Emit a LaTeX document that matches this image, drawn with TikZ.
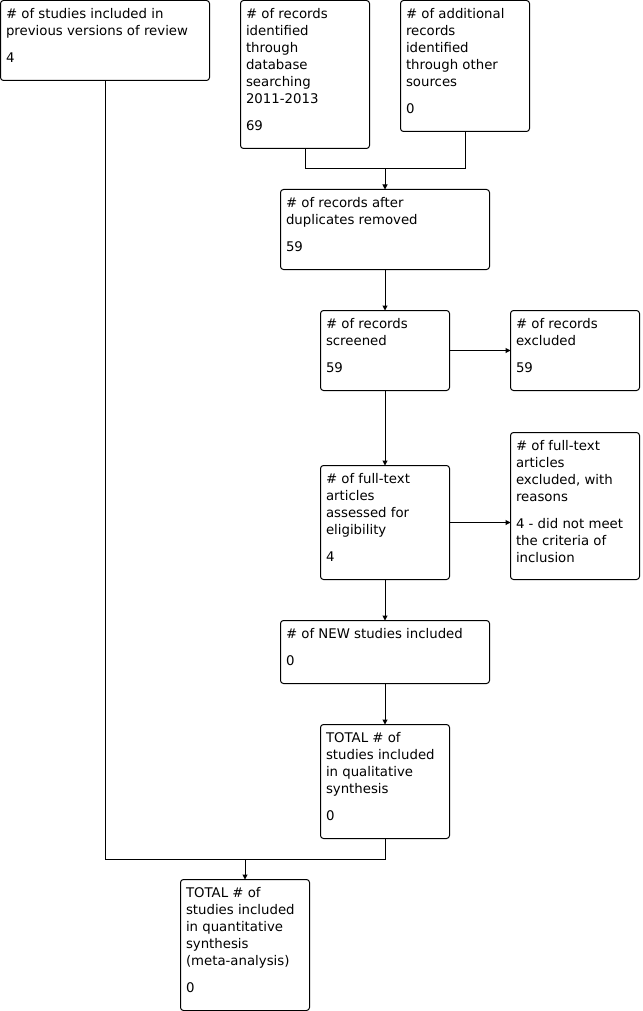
\documentclass[tikz,border=0pt]{standalone}
\usepackage{fontspec}
\setmainfont{DejaVu Sans}
\usetikzlibrary{arrows.meta}
\tikzset{
  boxst/.style={draw=black, line width=1pt, rounded corners=3pt, inner sep=0pt, outer sep=0pt, rectangle},
  txt/.style={inner sep=0pt, outer sep=0pt, align=left, font=\fontsize{13.3}{17}\selectfont, text=black},
  conn/.style={draw=black, line width=1pt},
  arr/.style={conn, -{Triangle[length=5pt,width=5pt]}}
}
\newcommand\prbox[6]{%
  \node[boxst, minimum width=#4pt, minimum height=#5pt, anchor=north west] (#1) at (#2,#3) {};
  \node[txt, anchor=north west] (#1t) at ([xshift=5.5pt,yshift=-6pt]#1.north west) {\rule{0pt}{12pt}#6};}
\begin{document}
\begin{tikzpicture}[x=1pt,y=-1pt]
\useasboundingbox (0,0) rectangle (642,1011);
\prbox{A}{0.5}{0.5}{209}{80}{\# of studies included in\\previous versions of review\\[10pt]4}
\prbox{B}{240.5}{0.5}{129}{148}{\# of records\\identified\\through\\database\\searching\\2011-2013\\[10pt]69}
\prbox{C}{400.5}{0.5}{129}{131}{\# of additional\\records\\identified\\through other\\sources\\[10pt]0}
\prbox{D}{280.5}{189.5}{209}{80}{\# of records after\\duplicates removed\\[10pt]59}
\prbox{E}{320.5}{310.5}{129}{80}{\# of records\\screened\\[10pt]59}
\prbox{F}{510.5}{310.5}{129}{80}{\# of records\\excluded\\[10pt]59}
\prbox{G}{320.5}{465.5}{129}{114}{\# of full-text\\articles\\assessed for\\eligibility\\[10pt]4}
\prbox{H}{510.5}{432.5}{129}{147}{\# of full-text\\articles\\excluded, with\\reasons\\[10pt]4 - did not meet\\the criteria of\\inclusion}
\prbox{I}{280.5}{620.5}{209}{63}{\# of NEW studies included\\[10pt]0}
\prbox{J}{320.5}{724.5}{129}{114}{TOTAL \# of\\studies included\\in qualitative\\synthesis\\[10pt]0}
\prbox{K}{180.5}{879.5}{129}{131}{TOTAL \# of\\studies included\\in quantitative\\synthesis\\(meta-analysis)\\[10pt]0}
\coordinate (m0) at (385,168.5);
\coordinate (m1) at (245,859.5);
\draw[conn] (B.south) |- (m0);
\draw[conn] (C.south) |- (m0);
\draw[arr] (m0) -- (D.north);
\draw[arr] (D.south) -- (E.north);
\draw[arr] (E.east) -- (F.west);
\draw[arr] (E.south) -- (G.north);
\draw[arr] (G.east) -- (H.west |- G.east);
\draw[arr] (G.south) -- (I.north);
\draw[arr] (I.south) -- (J.north);
\draw[conn] (A.south) |- (m1);
\draw[conn] (J.south) |- (m1);
\draw[arr] (m1) -- (K.north);
\end{tikzpicture}
\end{document}
